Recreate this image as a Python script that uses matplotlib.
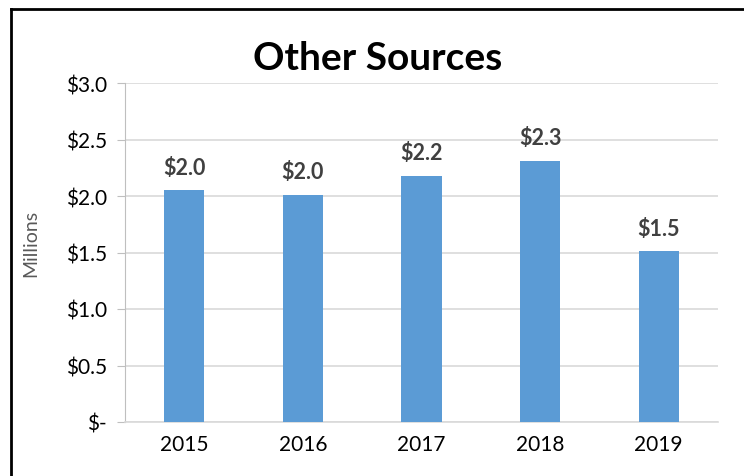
import matplotlib.pyplot as plt
from matplotlib.lines import Line2D

years = ['2015', '2016', '2017', '2018', '2019']
values = [2.05, 2.01, 2.18, 2.31, 1.51]
value_labels = ['$2.0', '$2.0', '$2.2', '$2.3', '$1.5']
yticks = [0, 0.5, 1.0, 1.5, 2.0, 2.5, 3.0]
ytick_labels = ['$-', '$0.5', '$1.0', '$1.5', '$2.0', '$2.5', '$3.0']

plt.rcParams['font.family'] = ['Lato', 'DejaVu Sans']

fig = plt.figure(figsize=(7.44, 4.77), dpi=100)
W, H = 744, 477
ax = fig.add_axes([125 / W, 1 - 423 / H, (718 - 125) / W, (423 - 84) / H])

x = range(len(years))
ax.bar(x, values, width=0.34, color='#5b9bd5', zorder=3)
for i, (v, lab) in enumerate(zip(values, value_labels)):
    ax.annotate(lab, (i, v), xytext=(0, 9), textcoords='offset points',
                ha='center', va='bottom', fontsize=15.5, fontweight='bold',
                color='#404040')

ax.set_xlim(-0.5, len(years) - 0.5)
ax.set_ylim(0, 3.0)
ax.set_xticks(list(x))
ax.set_xticklabels(years, fontsize=15)
ax.set_yticks(yticks)
ax.set_yticklabels(ytick_labels, fontsize=15)
ax.tick_params(axis='x', length=0, pad=9)
ax.tick_params(axis='y', length=6, color='#bfbfbf', pad=7)
ax.yaxis.grid(True, color='#d9d9d9', linewidth=1.2, zorder=0)

for side in ['top', 'right']:
    ax.spines[side].set_visible(False)
ax.spines['left'].set_color('#bfbfbf')
ax.spines['bottom'].set_color('#d9d9d9')
ax.spines['bottom'].set_linewidth(1.2)

ax.set_ylabel('Millions', fontsize=14, color='#595959')
ax.yaxis.set_label_coords((39 - 125) / (718 - 125), 0.53)

fig.text(378 / W, 1 - 58 / H, 'Other Sources', ha='center', va='center',
         fontsize=28, fontweight='bold')

# outer frame (left and top edges only visible)
fig.add_artist(Line2D([11 / W, 11 / W], [0, 1 - 10 / H], transform=fig.transFigure,
                      color='black', linewidth=2))
fig.add_artist(Line2D([11 / W, 1], [1 - 10 / H, 1 - 10 / H], transform=fig.transFigure,
                      color='black', linewidth=2))

fig.savefig('out.png', dpi=100)
